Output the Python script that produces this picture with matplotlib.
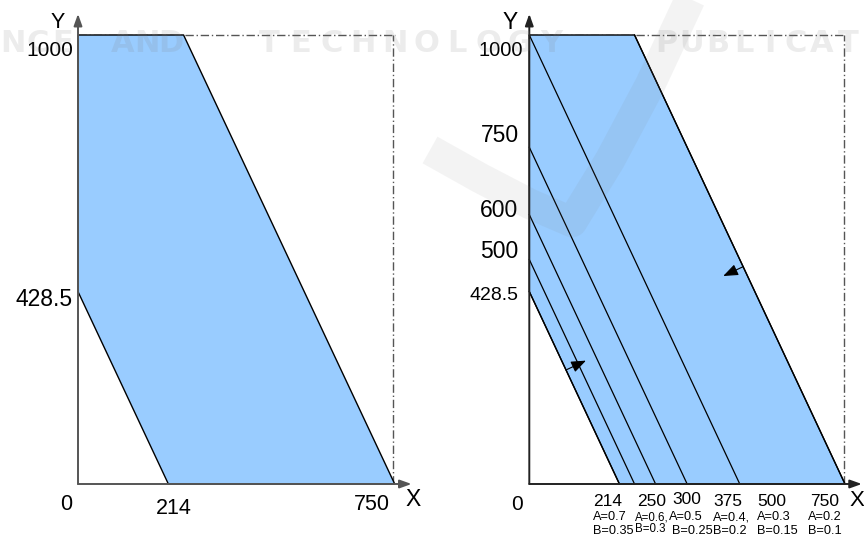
import numpy as np
import matplotlib.pyplot as plt
from matplotlib.patches import Polygon

# constraint lines  A*x + B*y = RHS
RHS = 150
x_intercepts = [214, 250, 300, 375, 500, 750]
y_intercepts = [428.5, 500, 600, 750, 1000, 1500]
coef_a = [0.7, 0.6, 0.5, 0.4, 0.3, 0.2]
coef_b = [0.35, 0.3, 0.25, 0.2, 0.15, 0.1]
x_max, y_max = 750, 1000

# feasible region (same in both panels)
region_x = [0, 250, 750, 214, 0]
region_y = [1000, 1000, 0, 0, 428.5]

left_y_ticks = [1000, 428.5]
left_x_ticks = [0, 214, 750]
right_y_ticks = [1000, 750, 600, 500, 428.5]

FILL = '#99ccff'
W, H = 864, 542

plt.rcParams['font.family'] = ['Liberation Sans', 'DejaVu Sans']
fig = plt.figure(figsize=(W / 100, H / 100), dpi=100)


def px(x, y):
    # figure pixel (from top-left) -> figure fraction
    return x / W, 1 - y / H


def make_axes(x0, x1):
    ax = fig.add_axes([x0 / W, (H - 484) / H, (x1 - x0) / W, 449 / H])
    ax.set_xlim(0, x_max)
    ax.set_ylim(0, y_max)
    ax.set_axis_off()
    return ax


def draw_frame(ax, axis_color):
    ax.plot([0, x_max], [y_max, y_max], color='#555555', lw=1,
            ls=(0, (6, 2, 1, 2)), clip_on=False, zorder=1)
    ax.plot([x_max * 0.996, x_max * 0.996], [0, y_max], color='#555555', lw=1,
            ls=(0, (6, 2, 1, 2)), clip_on=False, zorder=1)
    ax.add_patch(Polygon(np.column_stack([region_x, region_y]), closed=True,
                         facecolor=FILL, edgecolor='black', lw=1, zorder=2,
                         clip_on=False))
    arrow = dict(arrowstyle='-|>,head_length=0.7,head_width=0.25',
                 color=axis_color, lw=1.4, mutation_scale=10,
                 shrinkA=0, shrinkB=0)
    ax.annotate('', xy=(0, 1047), xytext=(0, 0), arrowprops=arrow,
                annotation_clip=False, zorder=4)
    ax.annotate('', xy=(790, 0), xytext=(0, 0), arrowprops=arrow,
                annotation_clip=False, zorder=4)


# ---------------- left panel ----------------
axl = make_axes(78, 394.7)
draw_frame(axl, '#555555')
fig.text(*px(57.5, 22.5), 'Y', fontsize=15.5, ha='center', va='center')
fig.text(*px(73, 50), f'{left_y_ticks[0]}', fontsize=15, ha='right', va='center')
fig.text(*px(73, 299), f'{left_y_ticks[1]}', fontsize=16.5, ha='right', va='center')
for lab, (cx, cy) in zip(left_x_ticks, [(66, 505), (174, 508), (372, 505)]):
    fig.text(*px(cx, cy), str(lab), fontsize=15.5, ha='center', va='center')
fig.text(*px(413, 500), 'X', fontsize=16.5, ha='center', va='center')

# ---------------- right panel ----------------
axr = make_axes(529.3, 845)
draw_frame(axr, '#222222')

for a, b in zip(coef_a, coef_b):
    x0 = RHS / a
    y0 = RHS / b
    if y0 > y_max:
        start = ((RHS - b * y_max) / a, y_max)
    else:
        start = (0, y0)
    axr.plot([start[0], x0], [start[1], 0], color='black', lw=0.9,
             zorder=3, clip_on=False)


def normal_arrow(ax, a, b, y_at, sign):
    x_at = (RHS - b * y_at) / a
    p0 = ax.transData.transform((x_at, y_at))
    p1 = ax.transData.transform(((RHS - b * (y_at + 100)) / a, y_at + 100))
    d = (p1 - p0) / np.hypot(*(p1 - p0))
    n = np.array([-d[1], d[0]]) * sign
    tip = p0 + n * 22
    ax.annotate('', xy=tip, xytext=p0, xycoords='figure pixels',
                textcoords='figure pixels',
                arrowprops=dict(arrowstyle='-|>,head_length=0.9,head_width=0.35',
                                color='black', lw=0.8, mutation_scale=10,
                                shrinkA=0, shrinkB=0),
                annotation_clip=False, zorder=5)


normal_arrow(axr, coef_a[-1], coef_b[-1], 484, 1)
normal_arrow(axr, coef_a[0], coef_b[0], 254, -1)

fig.text(*px(510, 22.5), 'Y', fontsize=16.5, ha='center', va='center')
for lab, cy, fs in zip(right_y_ticks, [50, 136, 211, 251, 296], [14.5, 16.5, 16.5, 16.5, 14]):
    fig.text(*px(523 if lab == 1000 else 518.5, cy), f'{lab}', fontsize=fs,
             ha='right', va='center')
fig.text(*px(517.5, 505), '0', fontsize=15, ha='center', va='center')
fig.text(*px(857, 500), 'X', fontsize=16, ha='center', va='center')

num_left = [593, 637, 672, 713, 757, 810]
a_left = [593, 635, 669, 713, 757, 808]
b_left = [593, 635, 672, 713, 757, 808]
for i, xi in enumerate(x_intercepts):
    fig.text(*px(num_left[i], 500 if xi == 300 else 502), str(xi),
             fontsize=12.5, ha='left', va='center')
    small = xi in (250, 375)
    a_txt = f'A={coef_a[i]}' + (',' if small else '')
    fig.text(*px(a_left[i], 517.5), a_txt, fontsize=8.3 if xi == 250 else 9.2,
             ha='left', va='center')
    fig.text(*px(b_left[i], 529 if xi == 250 else 531.5), f'B={coef_b[i]}',
             fontsize=8.3 if xi == 250 else 9.2, ha='left', va='center')

# faint publisher watermark: lettering across the top and a swoosh band
words = [('SCIENCE', -87, 25), ('AND', 123, 24), ('TECHNOLOGY', 269, 31.4),
         ('PUBLICATIONS', 666, 26)]
for word, start, step in words:
    for k, ch in enumerate(word):
        cx = start + k * step
        if cx < 12 or cx > W - 12:
            continue
        fig.text(*px(cx, 43), ch, fontsize=22, color='#808080', alpha=0.15,
                 ha='center', va='center', family='DejaVu Sans',
                 fontweight='bold', zorder=10)

band = [(430, 150), (480, 178), (530, 204), (572, 222), (610, 160),
        (650, 85), (692, -5)]
bx, by = zip(*[px(x, y) for x, y in band])
fig.add_artist(plt.Line2D(bx, by, color='#808080', alpha=0.09, lw=22,
                          solid_joinstyle='round', solid_capstyle='butt',
                          transform=fig.transFigure, zorder=10))

fig.savefig('out.png', dpi=100)
